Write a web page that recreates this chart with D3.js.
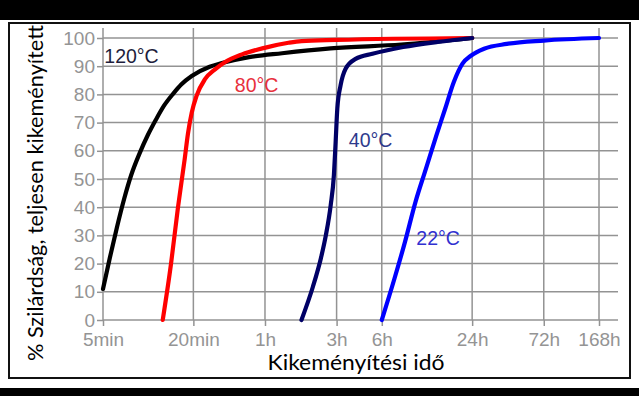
<!DOCTYPE html>
<html>
<head>
<meta charset="utf-8">
<script src="https://cdnjs.cloudflare.com/ajax/libs/d3/7.8.5/d3.min.js"></script>
<style>
  html, body { margin: 0; padding: 0; background: #fff; }
  svg { display: block; }
</style>
</head>
<body>
<div id="chart"></div>
<script>
// x axis ticks (minutes) and labels
var tickMinutes = [5, 20, 60, 180, 360, 1440, 4320, 10080];
var tickLabels = ['5min', '20min', '1h', '3h', '6h', '24h', '72h', '168h'];
var tickPercent = [0, 10, 20, 30, 40, 50, 60, 70, 80, 90, 100];

// curves: time in minutes, strength in %
var t120 = [5, 5.55, 6.2, 6.92, 7.72, 8.75, 9.93, 11.25, 12.75, 14.7, 16.6, 19.5, 25.7, 31, 47, 78, 164, 486, 1440];
var s120 = [11, 22, 33, 43, 51.5, 59, 65.5, 71, 76, 80.3, 83.5, 86.5, 89.8, 91.1, 93.2, 94.6, 96.3, 97.7, 100];

var t80 = [12.5, 14.2, 15.8, 17.5, 18.4, 19.5, 21, 23.9, 27.9, 32.6, 42.2, 60.5, 86, 105, 180, 1440];
var s80 = [0, 20, 40, 57, 66, 73.5, 79.5, 85.4, 88.9, 91.5, 94.2, 96.6, 98.3, 98.9, 99.3, 100];

var t40 = [105, 125, 141.6, 152.6, 164.5, 172.7, 177.4, 182, 191.3, 206.7, 241, 312, 500, 849, 1440];
var s40 = [0, 11.7, 22, 30, 40.8, 51.4, 63.2, 75, 83.2, 89.1, 92.6, 94.4, 96.8, 98.6, 100];

var t22 = [360, 438, 514, 604, 709, 832, 953, 1087, 1242, 1420, 1730, 2450, 4320, 10080];
var s22 = [0, 14.8, 27.7, 41.9, 53.7, 65.5, 75, 84.4, 90.9, 93.8, 96.2, 97.9, 99.1, 100];

var seriesNames = ['120°C', '80°C', '40°C', '22°C'];
var labelAt = [[5.1, 93.4], [37.8, 83.3], [217, 63.8], [612, 29]];

var series = [
  { name: seriesNames[0], t: t120, s: s120, color: '#000000', text: '#1e1e3c', at: labelAt[0] },
  { name: seriesNames[1], t: t80, s: s80, color: '#ff0000', text: '#e8303c', at: labelAt[1] },
  { name: seriesNames[2], t: t40, s: s40, color: '#000066', text: '#2e3a8c', at: labelAt[2] },
  { name: seriesNames[3], t: t22, s: s22, color: '#0000ff', text: '#3030d0', at: labelAt[3] }
];

var W = 639, H = 396;

var svg = d3.select('#chart').append('svg')
  .attr('width', W)
  .attr('height', H);

svg.append('rect').attr('width', W).attr('height', H).attr('fill', '#fff');

var x = d3.scaleLog().domain([5, 10080]).range([103, 599]);
var y = d3.scaleLinear().domain([0, 100]).range([320, 38]);

var gridColor = '#939393';

// grid
svg.append('g').selectAll('line.v')
  .data(tickMinutes)
  .enter().append('line')
  .attr('x1', function(d) { return x(d); })
  .attr('x2', function(d) { return x(d); })
  .attr('y1', 28)
  .attr('y2', y(0))
  .attr('stroke', gridColor)
  .attr('stroke-width', 1.5);

svg.append('g').selectAll('line.h')
  .data(tickPercent)
  .enter().append('line')
  .attr('x1', x(5))
  .attr('x2', 618)
  .attr('y1', function(d) { return y(d); })
  .attr('y2', function(d) { return y(d); })
  .attr('stroke', gridColor)
  .attr('stroke-width', 1.5);

// axes
var yAxis = svg.append('g')
  .attr('transform', 'translate(' + x(5) + ',0)')
  .call(d3.axisLeft(y).tickValues(tickPercent).tickSize(6).tickPadding(2));

var xAxis = svg.append('g')
  .attr('transform', 'translate(0,' + y(0) + ')')
  .call(d3.axisBottom(x).tickValues(tickMinutes).tickSize(6).tickPadding(7)
    .tickFormat(function(d, i) { return tickLabels[i]; }));

[yAxis, xAxis].forEach(function(a) {
  a.select('.domain').remove();
  a.selectAll('line').attr('stroke', gridColor).attr('stroke-width', 1.5);
  a.selectAll('text')
    .attr('fill', '#949494')
    .style('font-family', '"Liberation Sans", Arial, sans-serif')
    .style('font-size', '19px');
});

// curves
var line = d3.line()
  .x(function(d) { return x(d[0]); })
  .y(function(d) { return y(d[1]); })
  .curve(d3.curveMonotoneX);

series.forEach(function(s) {
  var pts = s.t.map(function(t, i) { return [t, s.s[i]]; });
  svg.append('path')
    .datum(pts)
    .attr('d', line)
    .attr('fill', 'none')
    .attr('stroke', s.color)
    .attr('stroke-width', 4.2)
    .attr('stroke-linejoin', 'round')
    .attr('stroke-linecap', 'round');
});

svg.append('g').selectAll('text')
  .data(series)
  .enter().append('text')
  .attr('x', function(d) { return x(d.at[0]); })
  .attr('y', function(d) { return y(d.at[1]); })
  .attr('dy', '0.35em')
  .attr('fill', function(d) { return d.text; })
  .style('font-family', '"Liberation Sans", Arial, sans-serif')
  .style('font-size', '19.5px')
  .text(function(d) { return d.name; });

// axis titles
svg.append('text')
  .attr('x', 356)
  .attr('y', 370)
  .attr('text-anchor', 'middle')
  .attr('textLength', 177)
  .attr('lengthAdjust', 'spacingAndGlyphs')
  .style('font-family', 'Lato, "Open Sans", sans-serif')
  .style('font-size', '21px')
  .text('Kikeményítési idő');

svg.append('text')
  .attr('transform', 'translate(43,193) rotate(-90)')
  .attr('text-anchor', 'middle')
  .attr('textLength', 336)
  .attr('lengthAdjust', 'spacingAndGlyphs')
  .style('font-family', 'Lato, "Open Sans", sans-serif')
  .style('font-size', '20.5px')
  .text('% Szilárdság, teljesen kikeményített');

// frame and black bands
svg.append('rect')
  .attr('x', 9).attr('y', 23)
  .attr('width', 621).attr('height', 355)
  .attr('fill', 'none')
  .attr('stroke', '#111')
  .attr('stroke-width', 2);

svg.append('rect').attr('x', 0).attr('y', 0).attr('width', W).attr('height', 20).attr('fill', '#000');
svg.append('rect').attr('x', 0).attr('y', 388).attr('width', W).attr('height', H - 388).attr('fill', '#000');
</script>
</body>
</html>
